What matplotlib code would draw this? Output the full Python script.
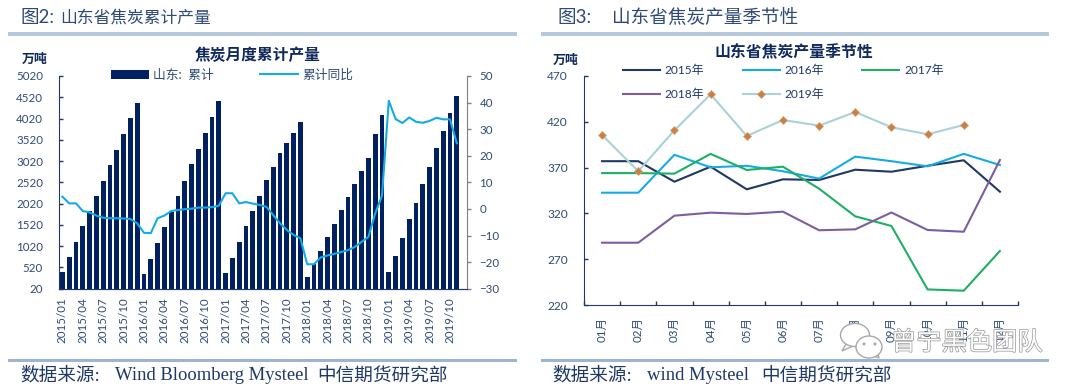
import matplotlib
matplotlib.use('Agg')
import matplotlib.pyplot as plt
import matplotlib.patheffects as pe
from matplotlib.patches import Ellipse, Polygon, Rectangle

plt.rcParams['font.family'] = ['Lato', 'Noto Sans CJK SC']

W, H = 1080, 390
NAVY = '#1F3864'
TEXT = '#2F4A75'

# ---- data: left chart ----
months = [f'{y}/{m:02d}' for y in range(2015, 2020) for m in range(1, 13)]
cum_output = [
    410, 772, 1125, 1500, 1846, 2200, 2550, 2930, 3290, 3655, 4030, 4380,
    365, 710, 1090, 1470, 1830, 2200, 2550, 2945, 3310, 3680, 4065, 4430,
    380, 750, 1110, 1495, 1855, 2210, 2575, 2890, 3200, 3440, 3670, 3945,
    300, 590, 906, 1230, 1540, 1870, 2180, 2480, 2795, 3090, 3650, 4110,
    420, 790, 1205, 1650, 2040, 2480, 2890, 3320, 3735, 4145, 4550,
]
cum_yoy = [
    4.6, 2.1, 2.1, -0.8, -1.3, -2.5, -3.3, -3.5, -3.5, -3.6, -3.8, -5.4,
    -9.0, -9.1, -3.5, -2.5, -0.8, -0.4, -0.1, 0.1, 0.5, 0.5, 0.7, 1.2,
    5.9, 5.9, 2.1, 2.6, 2.0, 1.5, 0.8, -2.3, -5.4, -7.9, -9.8, -11.0,
    -20.8, -20.8, -18.2, -17.5, -16.9, -16.2, -15.5, -14.3, -12.4, -10.5, -1.7, 5.0,
    40.7, 33.8, 32.3, 34.4, 32.8, 32.4, 33.1, 34.3, 33.7, 33.7, 24.7,
]
left_ticks = [20, 520, 1020, 1520, 2020, 2520, 3020, 3520, 4020, 4520, 5020]
right_ticks = [-30, -20, -10, 0, 10, 20, 30, 40, 50]

# ---- data: right chart ----
month_names = ['01月', '02月', '03月', '04月', '05月', '06月',
               '07月', '08月', '09月', '10月', '11月', '12月']
y2015 = [377, 377, 354.6, 371, 346.3, 357.2, 356.5, 367.7, 365.5, 372, 378, 343.7]
y2016 = [342.6, 342.6, 384, 370.3, 372, 366, 358, 382, 377, 371.4, 385, 372.8]
y2017 = [364, 364, 363.4, 385, 367.4, 371, 347, 316.8, 306.3, 237, 235.6, 279]
y2018 = [288, 288, 317.5, 320.8, 319.4, 321.9, 301.6, 302.6, 321, 301.9, 300, 378.3]
y2019 = [405.6, 366, 410.7, 450, 404.5, 422, 415.8, 430.7, 414, 406.4, 416.5]
season_ticks = [220, 270, 320, 370, 420, 470]


def fx(px):
    return px / W


def fy(px):
    return 1 - px / H


def axes_px(fig, x0, y0, x1, y1):
    # axes box given in picture pixels
    return fig.add_axes([fx(x0), fy(y1), (x1 - x0) / W, (y1 - y0) / H])


def label(fig, x, y, s, **kw):
    kw.setdefault('color', TEXT)
    kw.setdefault('va', 'center')
    return fig.text(fx(x), fy(y), s, **kw)


def rule(fig, x0, x1, y0, y1, color):
    fig.add_artist(Rectangle((fx(x0), fy(y1)), (x1 - x0) / W, (y1 - y0) / H,
                             transform=fig.transFigure, color=color, lw=0))


fig = plt.figure(figsize=(W / 100, H / 100), dpi=100, facecolor='white')

# ---- left chart ----
ax = axes_px(fig, 59, 76, 467, 288.7)
bars = ax.bar(range(len(cum_output)), cum_output, width=0.68, color='#002060', label='山东:  累计')
ax.set_xlim(-0.5, 59.5)
ax.set_ylim(20, 5020)
ax.set_yticks(left_ticks)
ax.set_xticks(range(0, 60, 3))
ax.set_xticklabels(months[::3], rotation=90, fontsize=8.3, color=TEXT)
ax.tick_params(axis='x', length=0, pad=6)
ax.tick_params(axis='y', direction='in', length=3, width=1, color=NAVY, labelsize=8.3,
               labelcolor=TEXT, pad=11.5)
ax.spines['top'].set_visible(False)
ax.spines['right'].set_visible(False)
ax.spines['left'].set_color(NAVY)
ax.spines['bottom'].set_color(NAVY)

ax2 = ax.twinx()
line, = ax2.plot(range(len(cum_yoy)), cum_yoy, color='#12ABE8', lw=1.5, label='累计同比')
ax2.set_ylim(-30, 50)
ax2.set_yticks(right_ticks)
ax2.tick_params(axis='y', direction='out', length=3, width=1, color='#808080', labelsize=8.3,
                labelcolor=TEXT, pad=6)
ax2.spines['top'].set_visible(False)
ax2.spines['left'].set_visible(False)
ax2.spines['bottom'].set_color(NAVY)
ax2.spines['right'].set_color('#808080')

fig.legend(handles=[bars, line], ncol=2, frameon=False, fontsize=9.2, labelcolor=TEXT,
           loc='center left', bbox_to_anchor=(fx(111), fy(74.5)), borderpad=0, borderaxespad=0,
           handlelength=3.0, handleheight=0.7, handletextpad=0.3, columnspacing=3.6)

label(fig, 258, 55, '焦炭月度累计产量', ha='center', fontsize=11.3, fontweight='bold', color='#10295C')
label(fig, 35, 59, '万吨', ha='center', fontsize=9.3, fontweight='bold', color='#10295C')

# ---- right chart ----
bx = axes_px(fig, 584, 76, 1018, 305)
l15, = bx.plot(month_names, y2015, color='#1F3864', lw=1.5, label='2015年')
l16, = bx.plot(month_names, y2016, color='#16ABE3', lw=1.5, label='2016年')
l17, = bx.plot(month_names, y2017, color='#1DB065', lw=1.5, label='2017年')
l18, = bx.plot(month_names, y2018, color='#7B5E9E', lw=1.5, label='2018年')
l19, = bx.plot(month_names[:len(y2019)], y2019, color='#A9D1D8', lw=1.5, marker='D', ms=3.8,
               mfc='#C97F45', mec='#D9A070', mew=0.5, label='2019年')
bx.set_xlim(-0.5, 11.5)
bx.set_ylim(220, 470)
bx.set_yticks(season_ticks)
bx.set_xticks([i + 0.5 for i in range(-1, 12)])
bx.set_xticklabels([])
bx.set_xticks(range(12), labels=month_names, minor=True, rotation=90, fontsize=8.3, color=TEXT)
bx.tick_params(axis='x', which='major', direction='in', length=3, width=1, color=NAVY)
bx.tick_params(axis='x', which='minor', length=0, pad=8.6)
bx.tick_params(axis='y', direction='in', length=3, width=1, color=NAVY, labelsize=8.6,
               labelcolor=TEXT, pad=11.5)
bx.spines['top'].set_visible(False)
bx.spines['right'].set_visible(False)
bx.spines['left'].set_color(NAVY)
bx.spines['bottom'].set_color(NAVY)

# column order so that the rows read 2015 2016 2017 / 2018 2019
fig.legend(handles=[l15, l18, l16, l19, l17], ncol=3, frameon=False, fontsize=8.6, labelcolor=NAVY,
           loc='upper left', bbox_to_anchor=(fx(623), fy(65)), borderpad=0, borderaxespad=0,
           handlelength=3.1, handletextpad=0.4, columnspacing=3.2, labelspacing=1.05)

label(fig, 794, 51, '山东省焦炭产量季节性', ha='center', fontsize=11.4, fontweight='bold', color='#10295C')
label(fig, 566, 60, '万吨', ha='center', fontsize=9.3, fontweight='bold', color='#10295C')

# ---- section headers and source lines ----
rule(fig, 8, 517, 32, 36, '#B5C8DC')
rule(fig, 541, 1049, 32, 36, '#B5C8DC')
rule(fig, 8, 517, 359, 361.5, '#9DB5D4')
rule(fig, 541, 1049, 359, 361.5, '#9DB5D4')

label(fig, 20, 17, '图2:', fontsize=13.4)
label(fig, 60, 18, '山东省焦炭累计产量', fontsize=12.1)
label(fig, 557, 17, '图3:', fontsize=13.4)
label(fig, 612, 17, '山东省焦炭产量季节性', fontsize=13.4)

serif = ['Liberation Serif', 'Noto Sans CJK SC']
for x, s in [(20, '数据来源:'), (115, 'Wind Bloomberg Mysteel'), (317, '中信期货研究部'),
             (552, '数据来源:'), (647, 'wind Mysteel'), (761, '中信期货研究部')]:
    label(fig, x, 376, s, fontsize=13.4, family=serif, color=NAVY)

# ---- watermark ----
wm = label(fig, 891, 342, '曾宁黑色团队', fontsize=18.2, color='white')
wm.set_path_effects([pe.withStroke(linewidth=1.0, foreground='#969696')])
for cx, cy, w, h, tail in [(855, 335, 29, 23, [(846, 344), (842, 351), (853, 346)]),
                           (869, 347, 26, 22, [(874, 356), (879, 358), (878, 354)])]:
    fig.add_artist(Polygon([(fx(a), fy(b)) for a, b in tail], transform=fig.transFigure,
                           fc='white', ec='#A8A8A8', lw=1))
    fig.add_artist(Ellipse((fx(cx), fy(cy)), w / W, h / H, transform=fig.transFigure,
                           fc='white', ec='#A8A8A8', lw=1))
for cx, cy in [(864, 344), (875, 344)]:
    fig.add_artist(Ellipse((fx(cx), fy(cy)), 3 / W, 3 / H, transform=fig.transFigure,
                           fc='#A8A8A8', lw=0))

fig.savefig('out.png', dpi=100)
